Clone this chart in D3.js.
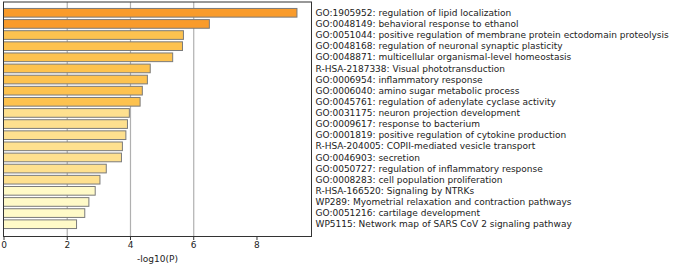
<!DOCTYPE html>
<html>
<head>
<meta charset="utf-8">
<script src="https://cdn.jsdelivr.net/npm/d3@7"></script>
<style>
  body { margin: 0; background: #fff; }
  svg { display: block; font-family: "DejaVu Sans", sans-serif; }
  .grid line { stroke: #b0b0b0; stroke-width: 1.2; }
  .grid path { display: none; }
  .axis path, .axis line { stroke: #333; }
</style>
</head>
<body>
<svg width="677" height="265"></svg>
<script>
//data
const terms = [
  "GO:1905952: regulation of lipid localization",
  "GO:0048149: behavioral response to ethanol",
  "GO:0051044: positive regulation of membrane protein ectodomain proteolysis",
  "GO:0048168: regulation of neuronal synaptic plasticity",
  "GO:0048871: multicellular organismal-level homeostasis",
  "R-HSA-2187338: Visual phototransduction",
  "GO:0006954: inflammatory response",
  "GO:0006040: amino sugar metabolic process",
  "GO:0045761: regulation of adenylate cyclase activity",
  "GO:0031175: neuron projection development",
  "GO:0009617: response to bacterium",
  "GO:0001819: positive regulation of cytokine production",
  "R-HSA-204005: COPII-mediated vesicle transport",
  "GO:0046903: secretion",
  "GO:0050727: regulation of inflammatory response",
  "GO:0008283: cell population proliferation",
  "R-HSA-166520: Signaling by NTRKs",
  "WP289: Myometrial relaxation and contraction pathways",
  "GO:0051216: cartilage development",
  "WP5115: Network map of SARS CoV 2 signaling pathway"
];
const logP = [9.28, 6.51, 5.69, 5.66, 5.35, 4.64, 4.55, 4.39, 4.32, 3.98,
              3.92, 3.87, 3.76, 3.73, 3.25, 3.05, 2.90, 2.70, 2.57, 2.31];
// colour group per bar (0 = strongest)
const colorGroup = [0, 0, 1, 1, 1, 1, 1, 1, 1, 2, 2, 2, 2, 2, 2, 2, 3, 3, 3, 3];
const groupColors = ["#f99b2b", "#fdc24f", "#fee08f", "#fffac8"];
const xTicks = [0, 2, 4, 6, 8];
const gridTicks = [2, 4, 6];

//layout
const plotLeft = 3.5, plotRight = 311.5, plotTop = 2, plotBottom = 236.5;

const svg = d3.select("svg");

const xScale = d3.scaleLinear()
  .domain([0, 9.74])
  .range([plotLeft, plotRight]);

const yScale = d3.scaleBand()
  .domain(d3.range(terms.length))
  .range([6, 231])
  .padding(0.22);

//grid
svg.append("g")
  .attr("class", "grid")
  .attr("transform", "translate(0," + plotBottom + ")")
  .call(d3.axisBottom(xScale)
    .tickValues(gridTicks)
    .tickSize(-(plotBottom - plotTop))
    .tickFormat(""));

//bars
svg.append("g")
  .selectAll("rect")
  .data(logP)
  .enter()
  .append("rect")
  .attr("x", xScale(0))
  .attr("y", (d, i) => yScale(i))
  .attr("width", d => xScale(d) - xScale(0))
  .attr("height", yScale.bandwidth())
  .style("fill", (d, i) => groupColors[colorGroup[i]])
  .style("stroke", "#7a7a7a")
  .style("stroke-width", 1);

//frame
svg.append("rect")
  .attr("x", plotLeft)
  .attr("y", plotTop)
  .attr("width", plotRight - plotLeft)
  .attr("height", plotBottom - plotTop)
  .style("fill", "none")
  .style("stroke", "#333")
  .style("stroke-width", 1);

//x axis
const gX = svg.append("g")
  .attr("class", "axis")
  .attr("transform", "translate(0," + plotBottom + ")")
  .call(d3.axisBottom(xScale)
    .tickValues(xTicks)
    .tickSize(3.5)
    .tickPadding(2)
    .tickFormat(d3.format("d")));
gX.select(".domain").remove();
gX.selectAll("text")
  .style("font-size", "9px")
  .style("font-family", "DejaVu Sans")
  .style("fill", "#222");

svg.append("text")
  .attr("x", (plotLeft + plotRight) / 2)
  .attr("y", 261.5)
  .style("text-anchor", "middle")
  .style("font-size", "9px")
  .style("fill", "#222")
  .text("-log10(P)");

//term labels
svg.append("g")
  .selectAll("text")
  .data(terms)
  .enter()
  .append("text")
  .attr("x", plotRight + 4)
  .attr("y", (d, i) => yScale(i) + yScale.bandwidth() / 2)
  .attr("dy", "0.35em")
  .style("font-size", "9px")
  .style("fill", "#222")
  .text(d => d);
</script>
</body>
</html>
